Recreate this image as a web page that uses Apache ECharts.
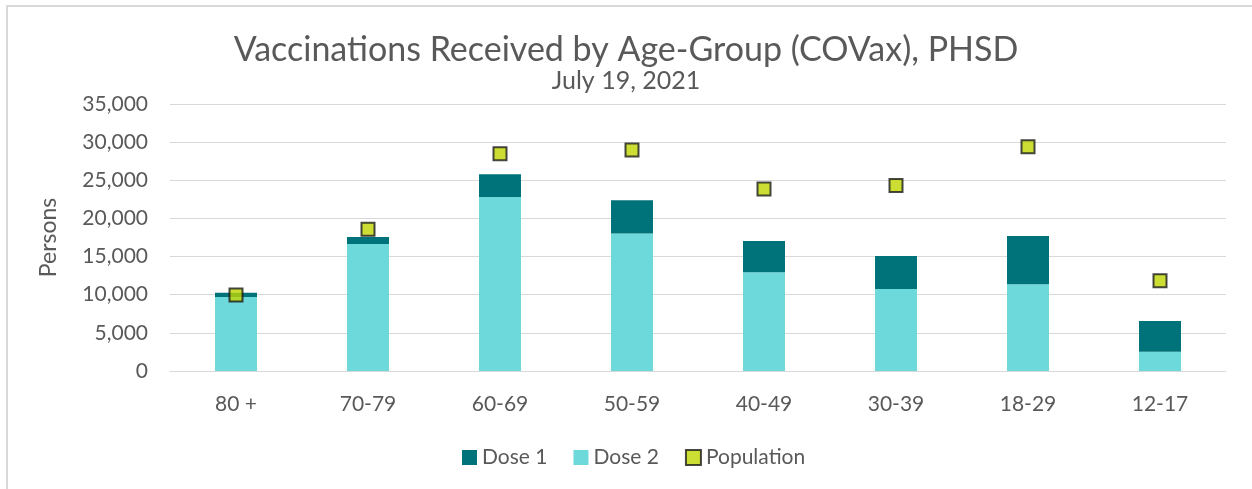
<!DOCTYPE html>
<html><head><meta charset="utf-8">
<script src="https://cdn.jsdelivr.net/npm/echarts@6/dist/echarts.min.js"></script>
<style>
html,body{margin:0;padding:0;background:#fff;overflow:hidden;}
#frame{position:absolute;left:6px;top:5px;width:1260px;height:500px;border:2px solid #d9d9d9;box-sizing:border-box;}
#c{position:absolute;left:0;top:0;width:1252px;height:489px;}
</style></head>
<body><div id="frame"></div><div id="c"></div>
<script>
const categories = ['80 +','70-79','60-69','50-59','40-49','30-39','18-29','12-17'];
const dose2 = [9700, 16640, 22800, 18040, 12930, 10750, 11360, 2530];
const dose1 = [560, 920, 2980, 4330, 4110, 4320, 6330, 4020];
const population = [9960, 18570, 28480, 28960, 23850, 24330, 29400, 11840];
const yTicks = [0, 5000, 10000, 15000, 20000, 25000, 30000, 35000];

const FONT = 'Lato';
const chart = echarts.init(document.getElementById('c'));
chart.setOption({
  animation:false,
  textStyle:{fontFamily:FONT},
  title:{
    text:'Vaccinations Received by Age-Group (COVax), PHSD',
    subtext:'July 19, 2021',
    left:'center', top:28, itemGap:1,
    textStyle:{fontFamily:FONT,fontSize:34,fontWeight:'normal',color:'#595959'},
    subtextStyle:{fontFamily:FONT,fontSize:25,color:'#595959'}
  },
  legend:{
    bottom:16, left:457, itemWidth:15, itemHeight:15, itemGap:26,
    textStyle:{fontFamily:FONT,fontSize:21,color:'#595959'},
    data:[{name:'Dose 1',icon:'rect'},{name:'Dose 2',icon:'rect'},{name:'Population',icon:'rect'}]
  },
  grid:{left:170,right:26,top:104,bottom:118},
  xAxis:{
    type:'category', data:categories,
    axisLine:{lineStyle:{color:'#d9d9d9',width:1}},
    axisTick:{show:false},
    axisLabel:{fontFamily:FONT,fontSize:21,color:'#595959',margin:23}
  },
  yAxis:{
    type:'value', min:yTicks[0], max:yTicks[yTicks.length-1], interval:yTicks[1]-yTicks[0],
    name:'Persons', nameLocation:'middle', nameGap:110, nameRotate:90,
    nameTextStyle:{fontFamily:FONT,fontSize:23,color:'#595959'},
    axisLabel:{fontFamily:FONT,fontSize:21,color:'#595959',margin:22,
      formatter:v=>v.toLocaleString('en-US')},
    axisLine:{show:false}, axisTick:{show:false},
    splitLine:{lineStyle:{color:'#d9d9d9',width:1}}
  },
  series:[
    {name:'Dose 2',type:'bar',stack:'d',data:dose2,barWidth:42,
      itemStyle:{color:'#6ED9DB'}},
    {name:'Dose 1',type:'bar',stack:'d',data:dose1,barWidth:42,
      itemStyle:{color:'#00737A'}},
    {name:'Population',type:'scatter',data:population,symbol:'rect',symbolSize:13,
      itemStyle:{color:'#BFD600',borderColor:'#1a1a1a',borderWidth:2},z:5}
  ]
});
</script></body></html>
